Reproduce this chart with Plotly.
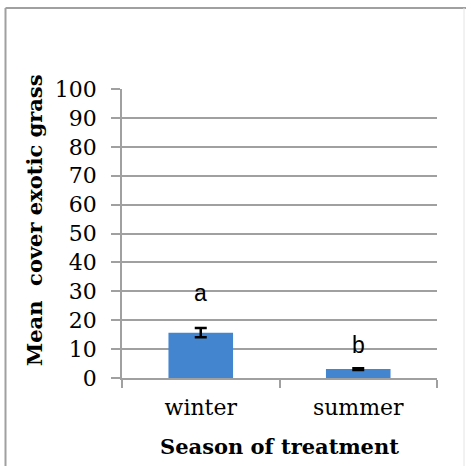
import plotly.graph_objects as go

categories = ["winter", "summer"]
mean_cover = [15.7, 3.1]
std_err = [1.6, 0.3]
letters = ["a", "b"]
letter_y = [29.4, 11.4]
y_ticks = [0, 10, 20, 30, 40, 50, 60, 70, 80, 90, 100]

W, H = 466, 466
ML, MR, MT, MB = 122, 29, 89, 88
PW, PH = W - ML - MR, H - MT - MB


def px_x(x):
    return (x - ML) / PW


def px_y(y):
    return (H - MB - y) / PH


fig = go.Figure()
fig.add_trace(go.Bar(
    x=categories, y=mean_cover, width=0.41,
    marker=dict(color="#4386cf", line=dict(width=0)),
    error_y=dict(type="data", array=std_err, visible=True,
                 color="black", thickness=2.5, width=6),
))

for c, t, yy in zip(categories, letters, letter_y):
    fig.add_annotation(x=c, y=yy, text=t, showarrow=False,
                       font=dict(family="Liberation Sans, Arial", size=23, color="black"),
                       yanchor="middle")

serif = "DejaVu Serif"

# y-axis title (placed as in the reference, slightly above the axis centre)
fig.add_annotation(xref="paper", yref="paper", x=px_x(35), y=px_y(220),
                   text="<b>Mean  cover exotic grass</b>", textangle=-90, showarrow=False,
                   font=dict(family=serif, size=21, color="black"),
                   xanchor="center", yanchor="middle")

# outer chart-area border
fig.add_shape(type="line", xref="paper", yref="paper",
              x0=px_x(5.5), x1=px_x(5.5), y0=px_y(8), y1=px_y(480),
              line=dict(color="#a0a0a0", width=2))
fig.add_shape(type="line", xref="paper", yref="paper",
              x0=px_x(5.5), x1=px_x(470), y0=px_y(8), y1=px_y(8),
              line=dict(color="#a0a0a0", width=2))
fig.add_shape(type="line", xref="paper", yref="paper",
              x0=px_x(464), x1=px_x(464), y0=px_y(8), y1=px_y(480),
              line=dict(color="#e4e4e4", width=1))

fig.update_layout(
    width=W, height=H,
    margin=dict(l=ML, r=MR, t=MT, b=MB, autoexpand=False),
    paper_bgcolor="white", plot_bgcolor="white",
    showlegend=False,
    bargap=0.59,
    xaxis=dict(
        showgrid=False, showline=True, linecolor="#a0a0a0", linewidth=1.5,
        ticks="outside", tickson="boundaries", ticklen=8, tickcolor="#a0a0a0", tickwidth=1.5,
        ticklabelstandoff=9,
        tickfont=dict(family=serif, size=22, color="black"),
        title=dict(text="<b>Season of treatment</b>", font=dict(family=serif, size=21, color="black"), standoff=20),
    ),
    yaxis=dict(
        range=[0, 100], tickvals=y_ticks,
        showgrid=True, gridcolor="#a0a0a0", gridwidth=1.5,
        showline=True, linecolor="#a0a0a0", linewidth=1.5,
        ticks="outside", ticklen=9, tickcolor="#a0a0a0", tickwidth=1.5,
        ticklabelstandoff=10,
        tickfont=dict(family=serif, size=22, color="black"),
        zeroline=False,
    ),
)

fig.write_html("out.html", config={"displayModeBar": False},
               post_script="document.body.style.margin='0';")
